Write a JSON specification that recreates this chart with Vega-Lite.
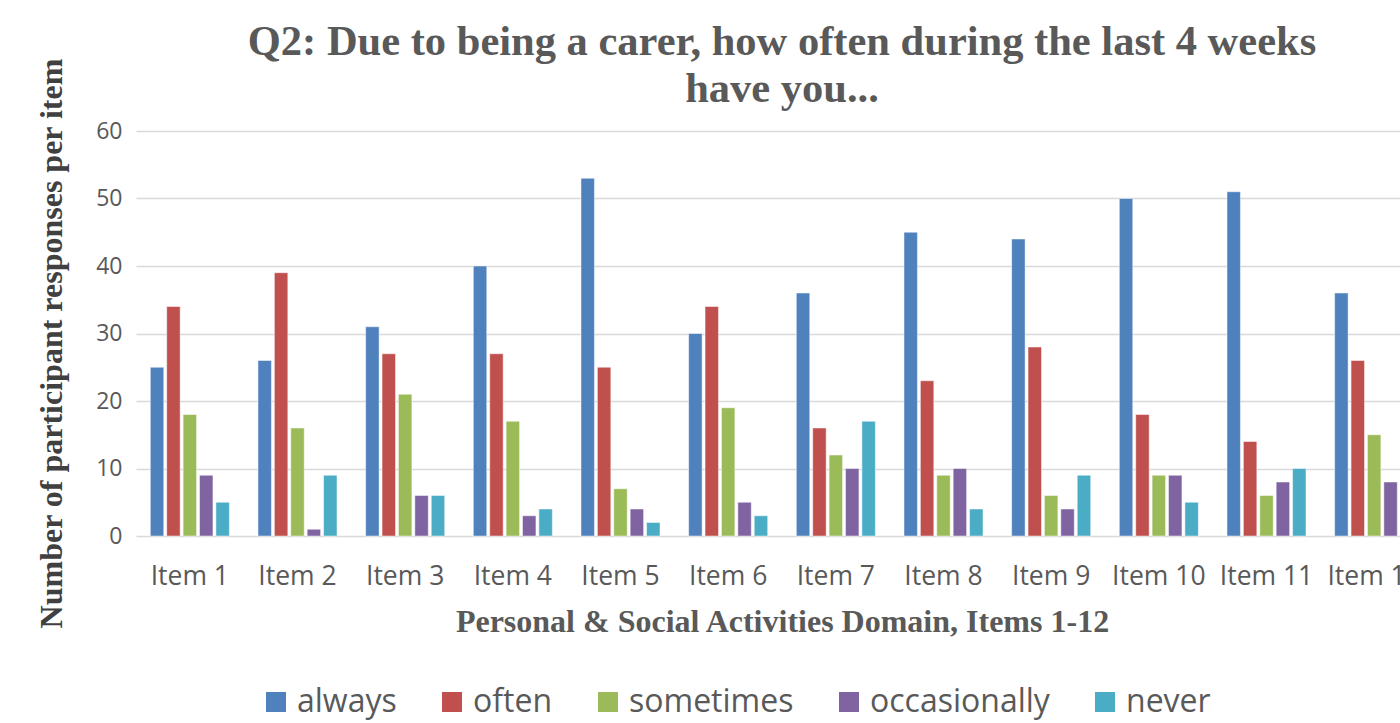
{
  "$schema": "https://vega.github.io/schema/vega-lite/v6.json",
  "autosize": {"type": "none"},
  "width": 1264,
  "height": 405,
  "padding": {"left": 136, "top": 131, "right": 0, "bottom": 187},
  "background": "white",
  "title": {
    "text": ["Q2: Due to being a carer, how often during the last 4 weeks", "have you..."],
    "font": "Liberation Serif",
    "fontSize": 42.5,
    "fontWeight": "bold",
    "color": "#595959",
    "anchor": "middle",
    "dx": 14,
    "dy": 52,
    "offset": -1,
    "lineHeight": 47
  },
  "data": {
    "values": [
      {"item": "Item 1", "response": "always", "count": 25},
      {"item": "Item 1", "response": "often", "count": 34},
      {"item": "Item 1", "response": "sometimes", "count": 18},
      {"item": "Item 1", "response": "occasionally", "count": 9},
      {"item": "Item 1", "response": "never", "count": 5},
      {"item": "Item 2", "response": "always", "count": 26},
      {"item": "Item 2", "response": "often", "count": 39},
      {"item": "Item 2", "response": "sometimes", "count": 16},
      {"item": "Item 2", "response": "occasionally", "count": 1},
      {"item": "Item 2", "response": "never", "count": 9},
      {"item": "Item 3", "response": "always", "count": 31},
      {"item": "Item 3", "response": "often", "count": 27},
      {"item": "Item 3", "response": "sometimes", "count": 21},
      {"item": "Item 3", "response": "occasionally", "count": 6},
      {"item": "Item 3", "response": "never", "count": 6},
      {"item": "Item 4", "response": "always", "count": 40},
      {"item": "Item 4", "response": "often", "count": 27},
      {"item": "Item 4", "response": "sometimes", "count": 17},
      {"item": "Item 4", "response": "occasionally", "count": 3},
      {"item": "Item 4", "response": "never", "count": 4},
      {"item": "Item 5", "response": "always", "count": 53},
      {"item": "Item 5", "response": "often", "count": 25},
      {"item": "Item 5", "response": "sometimes", "count": 7},
      {"item": "Item 5", "response": "occasionally", "count": 4},
      {"item": "Item 5", "response": "never", "count": 2},
      {"item": "Item 6", "response": "always", "count": 30},
      {"item": "Item 6", "response": "often", "count": 34},
      {"item": "Item 6", "response": "sometimes", "count": 19},
      {"item": "Item 6", "response": "occasionally", "count": 5},
      {"item": "Item 6", "response": "never", "count": 3},
      {"item": "Item 7", "response": "always", "count": 36},
      {"item": "Item 7", "response": "often", "count": 16},
      {"item": "Item 7", "response": "sometimes", "count": 12},
      {"item": "Item 7", "response": "occasionally", "count": 10},
      {"item": "Item 7", "response": "never", "count": 17},
      {"item": "Item 8", "response": "always", "count": 45},
      {"item": "Item 8", "response": "often", "count": 23},
      {"item": "Item 8", "response": "sometimes", "count": 9},
      {"item": "Item 8", "response": "occasionally", "count": 10},
      {"item": "Item 8", "response": "never", "count": 4},
      {"item": "Item 9", "response": "always", "count": 44},
      {"item": "Item 9", "response": "often", "count": 28},
      {"item": "Item 9", "response": "sometimes", "count": 6},
      {"item": "Item 9", "response": "occasionally", "count": 4},
      {"item": "Item 9", "response": "never", "count": 9},
      {"item": "Item 10", "response": "always", "count": 50},
      {"item": "Item 10", "response": "often", "count": 18},
      {"item": "Item 10", "response": "sometimes", "count": 9},
      {"item": "Item 10", "response": "occasionally", "count": 9},
      {"item": "Item 10", "response": "never", "count": 5},
      {"item": "Item 11", "response": "always", "count": 51},
      {"item": "Item 11", "response": "often", "count": 14},
      {"item": "Item 11", "response": "sometimes", "count": 6},
      {"item": "Item 11", "response": "occasionally", "count": 8},
      {"item": "Item 11", "response": "never", "count": 10},
      {"item": "Item 12", "response": "always", "count": 36},
      {"item": "Item 12", "response": "often", "count": 26},
      {"item": "Item 12", "response": "sometimes", "count": 15},
      {"item": "Item 12", "response": "occasionally", "count": 8},
      {"item": "Item 12", "response": "never", "count": 6}
    ]
  },
  "mark": {"type": "bar", "stroke": "white", "strokeWidth": 0.8, "strokeOpacity": 0.6},
  "encoding": {
    "x": {
      "field": "item",
      "type": "nominal",
      "sort": null,
      "scale": {"range": [0, 1292], "paddingInner": 0.266, "paddingOuter": 0.133},
      "axis": {
        "title": "Personal & Social Activities Domain, Items 1-12",
        "titleFont": "Liberation Serif",
        "titleFontSize": 32,
        "titleFontWeight": "bold",
        "titleColor": "#595959",
        "titleX": 646,
        "titlePadding": 17,
        "labelAngle": 0,
        "labelFont": "Open Sans",
        "labelFontSize": 26.5,
        "labelColor": "#595959",
        "labelPadding": 27,
        "ticks": false,
        "domain": false
      }
    },
    "xOffset": {
      "field": "response",
      "type": "nominal",
      "sort": ["always", "often", "sometimes", "occasionally", "never"],
      "scale": {"paddingInner": 0.18, "paddingOuter": 0}
    },
    "y": {
      "field": "count",
      "type": "quantitative",
      "scale": {"domain": [0, 60]},
      "axis": {
        "title": "Number of participant responses per item",
        "titleFont": "Liberation Serif",
        "titleFontSize": 32,
        "titleFontWeight": "bold",
        "titleColor": "#404040",
        "titlePadding": 27,
        "titleY": 212,
        "values": [0, 10, 20, 30, 40, 50, 60],
        "labelFont": "Open Sans",
        "labelFontSize": 23,
        "labelColor": "#595959",
        "labelPadding": 14,
        "ticks": false,
        "domain": false,
        "gridColor": "#d9d9d9",
        "gridWidth": 1.5
      }
    },
    "color": {
      "field": "response",
      "type": "nominal",
      "sort": ["always", "often", "sometimes", "occasionally", "never"],
      "scale": {
        "domain": ["always", "often", "sometimes", "occasionally", "never"],
        "range": ["#4F81BD", "#C0504D", "#9BBB59", "#8064A2", "#4BACC6"]
      },
      "legend": {
        "title": null,
        "orient": "none",
        "legendX": 124,
        "legendY": 555,
        "direction": "horizontal",
        "columns": 5,
        "symbolType": "square",
        "symbolSize": 400,
        "symbolStrokeWidth": 0,
        "labelFont": "Open Sans",
        "labelFontSize": 32,
        "labelColor": "#595959",
        "labelOffset": 5,
        "columnPadding": 39,
        "labelLimit": 400
      }
    }
  },
  "config": {
    "view": {"stroke": null}
  }
}
